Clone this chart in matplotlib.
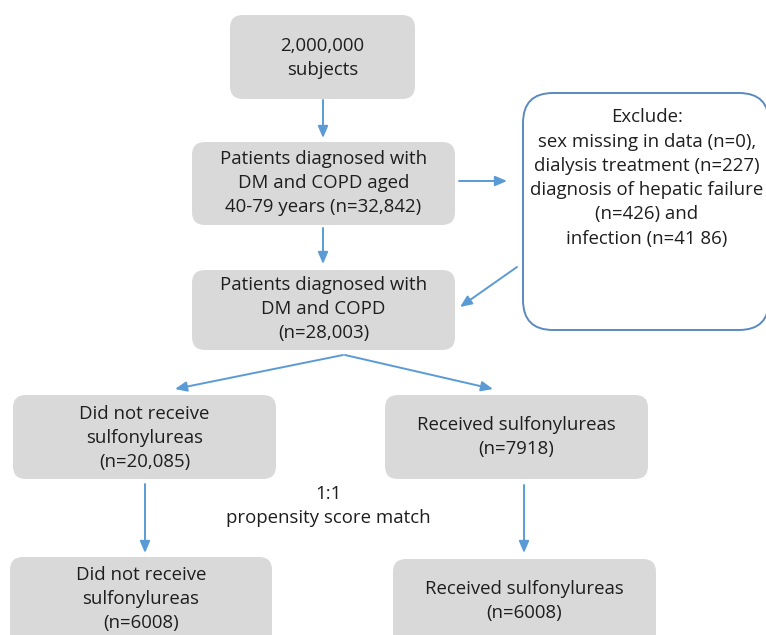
import matplotlib
matplotlib.use("Agg")
import matplotlib.pyplot as plt
from matplotlib.patches import FancyBboxPatch

# ---- content ----
box_labels = [
    "2,000,000\nsubjects",
    "Patients diagnosed with\nDM and COPD aged\n40-79 years (n=32,842)",
    "Patients diagnosed with\nDM and COPD\n(n=28,003)",
    "Did not receive\nsulfonylureas\n(n=20,085)",
    "Received sulfonylureas\n(n=7918)",
    "Did not receive\nsulfonylureas\n(n=6008)",
    "Received sulfonylureas\n(n=6008)",
]
exclude_label = ("Exclude:\nsex missing in data (n=0),\ndialysis treatment (n=227)\n"
                 "diagnosis of hepatic failure\n(n=426) and\ninfection (n=41 86)")
match_label = "1:1\npropensity score match"

# ---- layout (pixel coords) ----
W, H = 766, 635
fig = plt.figure(figsize=(W / 100, H / 100), dpi=100)
ax = fig.add_axes([0, 0, 1, 1])
ax.set_xlim(0, W)
ax.set_ylim(H, 0)
ax.axis("off")

FILL = "#d9d9d9"
TXT = "#1e1e1e"
ARROW = "#5b9bd5"
FONT = "Open Sans"
FS = 13.4
LS = 1.45

# (x0, y0, x1, y1, text_center_y)
boxes = [
    (230, 15, 415, 99, 58),
    (192, 142, 455, 225, 183),
    (192, 270, 455, 350, 309),
    (13, 395, 276, 479, 438),
    (385, 395, 648, 479, 437),
    (10, 557, 272, 660, 599),
    (393, 559, 656, 660, 601),
]

for (x0, y0, x1, y1, ty), lab in zip(boxes, box_labels):
    p = FancyBboxPatch((x0, y0), x1 - x0, y1 - y0,
                       boxstyle="round,pad=0,rounding_size=13",
                       fc=FILL, ec="none", zorder=1)
    ax.add_patch(p)
    ax.text((x0 + x1) / 2, ty, lab, ha="center", va="center", color=TXT,
            fontsize=FS, family=FONT, linespacing=LS, zorder=3)

# exclusion box
ex = FancyBboxPatch((523, 93), 246, 237,
                    boxstyle="round,pad=0,rounding_size=30",
                    fc="white", ec="#5a8ac0", lw=1.4, zorder=1)
ax.add_patch(ex)
ax.text(647, 178, exclude_label, ha="center", va="center", color=TXT,
        fontsize=FS, family=FONT, linespacing=LS, zorder=3)

ax.text(328, 506, match_label, ha="center", va="center", color=TXT,
        fontsize=FS, family=FONT, linespacing=LS, zorder=3)

# arrows
arrows = [
    ((323, 100), (323, 138)),
    ((459, 181), (507, 181)),
    ((323, 228), (323, 264)),
    ((517, 267), (460, 307)),
    ((343, 355), (175, 389)),
    ((345, 355), (493, 389)),
    ((145, 484), (145, 553)),
    ((524, 485), (524, 553)),
]
for s, e in arrows:
    ax.annotate("", xy=e, xytext=s,
                arrowprops=dict(arrowstyle="-|>,head_length=0.7,head_width=0.3",
                                color=ARROW, lw=1.4, shrinkA=0, shrinkB=0),
                zorder=2)

fig.savefig("out.png", dpi=100, facecolor="white")
